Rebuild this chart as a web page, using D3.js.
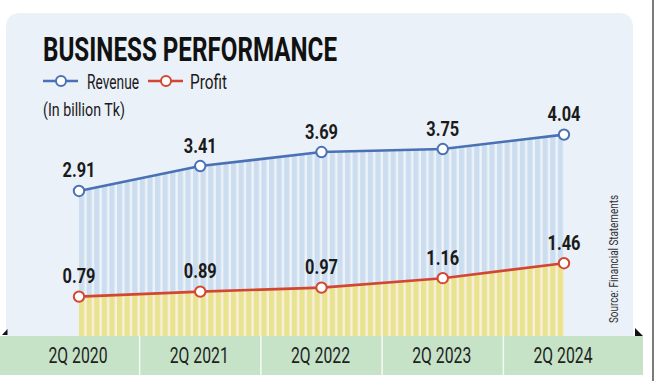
<!DOCTYPE html>
<html><head><meta charset="utf-8">
<script src="https://cdn.jsdelivr.net/npm/d3@7"></script>
<style>html,body{margin:0;padding:0;background:#fff;}svg{display:block;}</style>
</head><body>
<svg id="chart" width="657" height="381"></svg>
<script>
const categories = ["2Q 2020","2Q 2021","2Q 2022","2Q 2023","2Q 2024"];
const revenue = [2.91, 3.41, 3.69, 3.75, 4.04];
const profit = [0.79, 0.89, 0.97, 1.16, 1.46];
const revenueLabels = ["2.91","3.41","3.69","3.75","4.04"];
const profitLabels = ["0.79","0.89","0.97","1.16","1.46"];

const svg = d3.select("#chart");
const FONT = "Roboto, 'Liberation Sans', sans-serif";
const blue = "#4a70b5", red = "#d24632";

const x = d3.scalePoint().domain(categories).range([79, 564]);
const y = d3.scaleLinear().domain([0, 4]).range([336, 136.6]);
const step = x.step();

const defs = svg.append("defs");
function stripes(id, bg, fg) {
  const p = defs.append("pattern").attr("id", id).attr("patternUnits", "userSpaceOnUse")
    .attr("width", 7.6).attr("height", 10).attr("x", 79);
  p.append("rect").attr("width", 7.6).attr("height", 10).attr("fill", bg);
  p.append("rect").attr("width", 5.2).attr("height", 10).attr("fill", fg);
}
stripes("pb", "#edf3f9", "#cbddee");
stripes("py", "#f7f0de", "#e9e28e");

// panel
svg.append("path")
  .attr("d", "M6,336 L6,28 Q6,13 21,13 L619,13 Q633,13 633,28 L633,336 Z")
  .attr("fill", "#eaf1f8");
// right border
svg.append("line").attr("x1", 653).attr("x2", 653).attr("y1", 0).attr("y2", 381)
  .attr("stroke", "#7a7a7a").attr("stroke-width", 2);

// areas
const areaR = d3.area().x((d, i) => x(categories[i])).y0(y(0)).y1(d => y(d));
svg.append("path").datum(revenue).attr("d", areaR).attr("fill", "url(#pb)");
svg.append("path").datum(profit).attr("d", areaR).attr("fill", "url(#py)");

// lines
const line = d3.line().x((d, i) => x(categories[i])).y(d => y(d));
svg.append("path").datum(revenue).attr("d", line).attr("fill", "none").attr("stroke", blue).attr("stroke-width", 2.6);
svg.append("path").datum(profit).attr("d", line).attr("fill", "none").attr("stroke", red).attr("stroke-width", 2.6);

function pts(data, color) {
  svg.append("g").selectAll("circle").data(data).join("circle")
    .attr("cx", (d, i) => x(categories[i])).attr("cy", d => y(d)).attr("r", 5.2)
    .attr("fill", "#fff").attr("stroke", color).attr("stroke-width", 2);
}
pts(revenue, blue);
pts(profit, red);

function labels(data, texts) {
  svg.append("g").selectAll("text").data(data).join("text")
    .attr("x", (d, i) => x(categories[i])).attr("y", d => y(d) - 13.5)
    .attr("text-anchor", "middle").attr("font-family", FONT).attr("font-weight", 700)
    .attr("font-size", 19.5).attr("fill", "#1a1a1a")
    .attr("textLength", 33).attr("lengthAdjust", "spacingAndGlyphs")
    .text((d, i) => texts[i]);
}
labels(revenue, revenueLabels);
labels(profit, profitLabels);

// bottom band
const band = svg.append("g");
categories.forEach((c, i) => {
  const x0 = i === 0 ? 0 : x(c) - step / 2;
  const x1 = i === categories.length - 1 ? 643 : x(c) + step / 2;
  band.append("rect").attr("x", x0).attr("y", 336).attr("width", x1 - x0).attr("height", 39)
    .attr("fill", "#c6e3c8");
  if (i > 0) band.append("line").attr("x1", x0).attr("x2", x0).attr("y1", 336).attr("y2", 375)
    .attr("stroke", "#f4faf4").attr("stroke-width", 1.5);
  band.append("text").attr("x", x(c) - 1).attr("y", 363).attr("text-anchor", "middle")
    .attr("font-family", FONT).attr("font-size", 22).attr("fill", "#1f1f1f")
    .attr("textLength", 59).attr("lengthAdjust", "spacingAndGlyphs").text(c);
});
// corner triangles
svg.append("path").attr("d", "M2,335 L7.5,335 L7.5,329 Z").attr("fill", "#111");
svg.append("path").attr("d", "M635,328 L635,336 L643,336 Z").attr("fill", "#111");

// title
svg.append("text").attr("x", 43).attr("y", 61).attr("font-family", FONT).attr("font-weight", 700)
  .attr("font-size", 32.5).attr("fill", "#111").attr("textLength", 294).attr("lengthAdjust", "spacingAndGlyphs")
  .text("BUSINESS PERFORMANCE");

// legend
function legendItem(x0, color, label, tx, tl) {
  svg.append("line").attr("x1", x0).attr("x2", x0 + 35).attr("y1", 81).attr("y2", 81)
    .attr("stroke", color).attr("stroke-width", 2.4);
  svg.append("circle").attr("cx", x0 + 18).attr("cy", 81).attr("r", 5).attr("fill", "#fff")
    .attr("stroke", color).attr("stroke-width", 2);
  svg.append("text").attr("x", tx).attr("y", 89).attr("font-family", FONT).attr("font-size", 21)
    .attr("fill", "#1a1a1a").attr("textLength", tl).attr("lengthAdjust", "spacingAndGlyphs").text(label);
}
legendItem(43, blue, "Revenue", 87, 52);
legendItem(148, red, "Profit", 190, 37);

svg.append("text").attr("x", 43).attr("y", 116).attr("font-family", FONT).attr("font-size", 18)
  .attr("fill", "#1a1a1a").attr("textLength", 82).attr("lengthAdjust", "spacingAndGlyphs")
  .text("(In billion Tk)");

// source
svg.append("text").attr("transform", "translate(618,323) rotate(-90)")
  .attr("font-family", FONT).attr("font-size", 12.5).attr("fill", "#333")
  .attr("textLength", 128).attr("lengthAdjust", "spacingAndGlyphs")
  .text("Source: Financial Statements");
</script>
</body></html>
